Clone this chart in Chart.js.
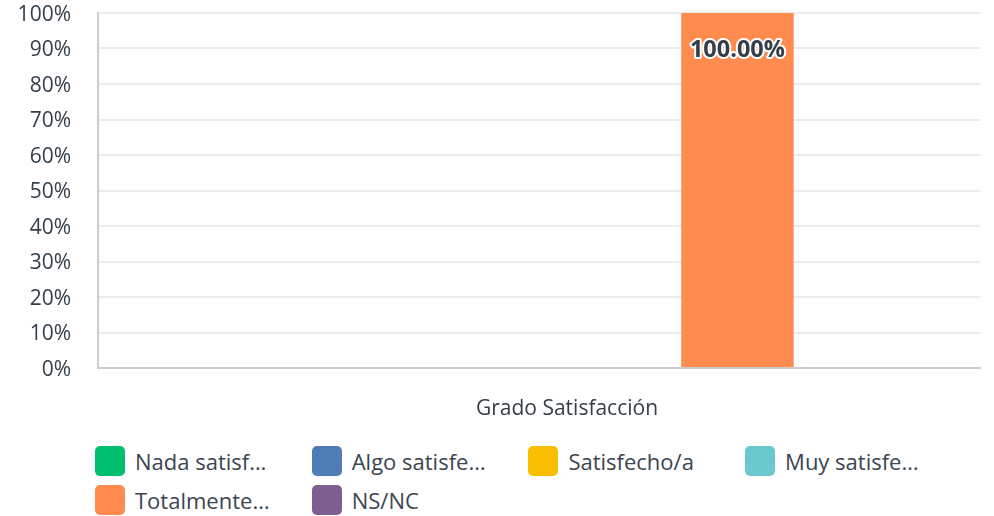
<!DOCTYPE html>
<html>
<head>
<meta charset="utf-8">
<script src="https://cdn.jsdelivr.net/npm/chart.js@4.4.1/dist/chart.umd.min.js"></script>
<style>
  body { margin: 0; background: #fff; font-family: "Open Sans", sans-serif; }
  #wrap { position: absolute; left: 0; top: 0; width: 994px; height: 430px; }
  #chart-legend { position: absolute; left: 95px; top: 446px; width: 880px; }
  .item { position: absolute; display: flex; align-items: center; font-size: 22px; color: #3b4550; white-space: nowrap; line-height: 30px; }
  .sw { width: 30px; height: 30px; border-radius: 5px; margin-right: 10px; }
</style>
</head>
<body>
<div id="wrap"><canvas id="myBarChart" width="994" height="430"></canvas></div>
<div id="chart-legend"></div>
<script>
var categories = ['Grado Satisfacción'];
var seriesNames = ['Nada satisf…', 'Algo satisfe…', 'Satisfecho/a', 'Muy satisfe…', 'Totalmente…', 'NS/NC'];
var seriesValues = [[0], [0], [0], [0], [100], [0]];
var seriesColors = ['#00BF6F', '#507CB6', '#F9BE00', '#6BC8CD', '#FF8B4F', '#7D5E90'];
var tickValues = [0, 10, 20, 30, 40, 50, 60, 70, 80, 90, 100];

var textColor = '#333e48';

var datasets = seriesNames.map(function(name, i) {
    return {
        label: name,
        data: seriesValues[i],
        backgroundColor: seriesColors[i],
        borderWidth: 0,
        barPercentage: 0.85,
        categoryPercentage: 0.9
    };
});

// draws the "100.00%" labels inside the top of bars
var valueLabels = {
    id: 'valueLabels',
    afterDatasetsDraw: function(chart) {
        var ctx = chart.ctx;
        ctx.save();
        ctx.font = 'bold 23.5px "Open Sans", sans-serif';
        ctx.textAlign = 'center';
        ctx.textBaseline = 'middle';
        ctx.lineJoin = 'round';
        chart.data.datasets.forEach(function(ds, i) {
            var meta = chart.getDatasetMeta(i);
            meta.data.forEach(function(bar, j) {
                var v = ds.data[j];
                if (!v) return;
                var txt = v.toFixed(2) + '%';
                var y = bar.y + 37;
                ctx.strokeStyle = '#ffffff';
                ctx.lineWidth = 4;
                ctx.strokeText(txt, bar.x, y);
                ctx.fillStyle = textColor;
                ctx.fillText(txt, bar.x, y);
            });
        });
        ctx.restore();
    }
};

var ctx = document.getElementById('myBarChart').getContext('2d');
var myBarChart = new Chart(ctx, {
    type: 'bar',
    data: { labels: categories, datasets: datasets },
    options: {
        responsive: false,
        maintainAspectRatio: false,
        animation: false,
        layout: { padding: { top: 13, right: 14, bottom: 10, left: 0 } },
        plugins: {
            legend: { display: false },
            tooltip: { enabled: false }
        },
        scales: {
            x: {
                afterFit: function(s) { s.height = 52; },
                grid: { display: false, drawTicks: false },
                border: { display: true, color: '#cccccc', width: 2 },
                ticks: {
                    padding: 28,
                    labelOffset: 28,
                    maxRotation: 0,
                    color: textColor,
                    font: { family: '"Open Sans", sans-serif', size: 21 }
                }
            },
            y: {
                min: 0,
                max: 100,
                afterFit: function(s) {
                    s.width = 98;
                    s.paddingTop = 0;
                    s.paddingBottom = 0;
                },
                afterBuildTicks: function(s) {
                    s.ticks = tickValues.map(function(v) { return { value: v }; });
                },
                grid: { color: '#ececec', lineWidth: 2, drawTicks: false },
                border: { display: true, color: '#cccccc', width: 2 },
                ticks: {
                    padding: 27,
                    labelOffset: 2,
                    color: textColor,
                    font: { family: '"Open Sans", sans-serif', size: 21 },
                    callback: function(v) { return v + '%'; }
                }
            }
        }
    },
    plugins: [valueLabels]
});

var legendDiv = document.getElementById('chart-legend');
seriesNames.forEach(function(label, index) {
    var legendItem = document.createElement('div');
    legendItem.className = 'item';
    legendItem.style.left = ((index % 4) * 216.7) + 'px';
    legendItem.style.top = (Math.floor(index / 4) * 39) + 'px';
    legendItem.innerHTML = '<span class="sw" style="background-color: ' + seriesColors[index] + ';"></span>' + label;
    legendDiv.appendChild(legendItem);
});
</script>
</body>
</html>
